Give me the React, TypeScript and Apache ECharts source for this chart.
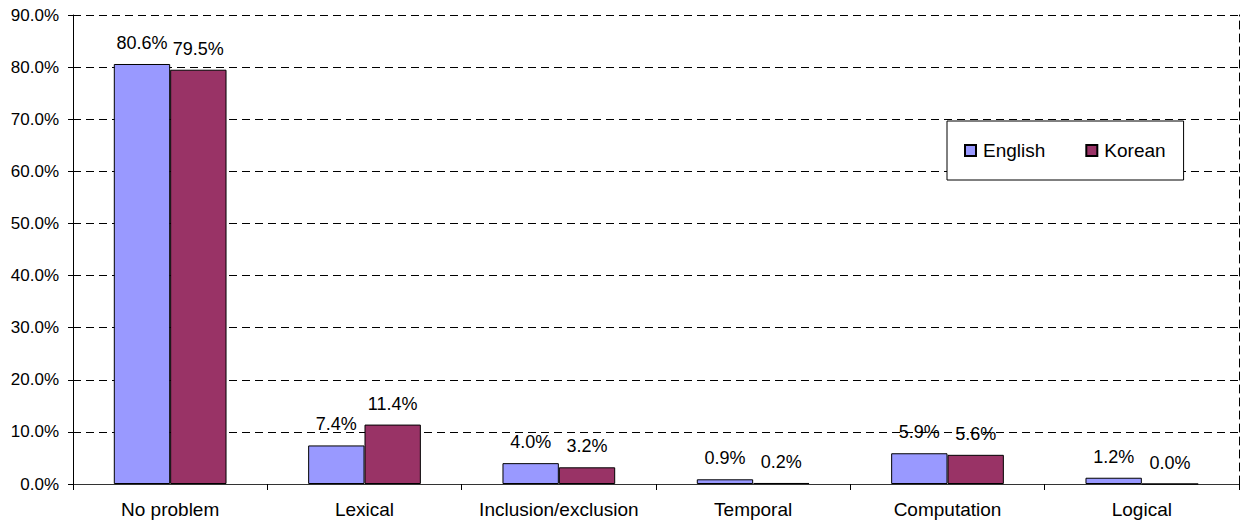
import React, { useEffect, useRef } from "react";
import * as echarts from "echarts";

const categories = ["No problem", "Lexical", "Inclusion/exclusion", "Temporal", "Computation", "Logical"];
const englishValues = [80.6, 7.4, 4.0, 0.9, 5.9, 1.2];
const koreanValues = [79.5, 11.4, 3.2, 0.2, 5.6, 0.0];
const seriesNames = ["English", "Korean"];

const FONT = "'Liberation Sans', Arial, sans-serif";

export default function App() {
  const ref = useRef<HTMLDivElement>(null);
  useEffect(() => {
    if (!ref.current) return;
    const chart = echarts.init(ref.current, null, { renderer: "svg" });
    const pct = (v: number) => v.toFixed(1) + "%";
    const label = {
      show: true,
      position: "top" as const,
      distance: 12,
      color: "#000",
      fontFamily: FONT,
      fontSize: 18,
      formatter: (p: any) => pct(p.value),
    };
    chart.setOption({
      animation: false,
      backgroundColor: "#fff",
      textStyle: { fontFamily: FONT, color: "#000" },
      grid: { left: 73, right: 5, top: 15, bottom: 41, containLabel: false },
      legend: {
        data: seriesNames,
        left: 947,
        top: 121,
        orient: "horizontal",
        backgroundColor: "#fff",
        borderColor: "#000",
        borderWidth: 1,
        padding: [20, 18, 20, 17],
        itemWidth: 11,
        itemHeight: 11,
        itemGap: 40,
        icon: "rect",
        textStyle: { fontFamily: FONT, fontSize: 19, color: "#000", padding: [0, 0, 0, 2] },
      },
      xAxis: {
        type: "category",
        data: categories,
        axisLine: { show: true, lineStyle: { color: "#333", width: 1 } },
        axisTick: { show: true, interval: 0, length: 6, lineStyle: { color: "#000" } },
        axisLabel: { interval: 0, color: "#000", fontFamily: FONT, fontSize: 19, margin: 16 },
        splitLine: { show: false },
      },
      yAxis: [
        {
          type: "value",
          min: 0,
          max: 90,
          interval: 10,
          axisLine: { show: true, lineStyle: { color: "#000", width: 1 } },
          axisTick: { show: true, length: 5, lineStyle: { color: "#000" } },
          axisLabel: {
            color: "#000",
            fontFamily: FONT,
            fontSize: 17,
            margin: 14,
            formatter: (v: number) => pct(v),
          },
          splitLine: { show: true, lineStyle: { color: "#000", type: [8, 5], width: 1 } },
        },
        {
          type: "value",
          position: "right",
          min: 0,
          max: 90,
          interval: 10,
          axisLine: { show: true, lineStyle: { color: "#000", type: [8, 5], width: 1 } },
          axisTick: { show: false },
          axisLabel: { show: false },
          splitLine: { show: false },
        },
      ],
      series: [
        {
          name: seriesNames[0],
          type: "bar",
          data: englishValues,
          barGap: "0%",
          barCategoryGap: "42%",
          itemStyle: { color: "#9999FF", borderColor: "#000", borderWidth: 1 },
          label,
        },
        {
          name: seriesNames[1],
          type: "bar",
          data: koreanValues,
          barGap: "0%",
          barCategoryGap: "42%",
          itemStyle: { color: "#993366", borderColor: "#000", borderWidth: 1 },
          label,
        },
      ],
    });
    return () => chart.dispose();
  }, []);
  return (
    <div
      ref={ref}
      style={{ position: "fixed", left: 0, top: 0, width: 1244, height: 525, background: "#fff" }}
    />
  );
}
